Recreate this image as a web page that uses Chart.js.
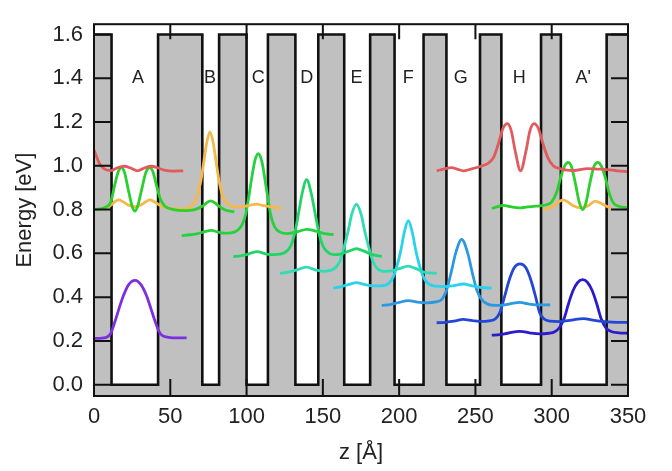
<!DOCTYPE html>
<html><head><meta charset="utf-8">
<script src="https://cdn.jsdelivr.net/npm/chart.js@4/dist/chart.umd.min.js"></script>
<style>html,body{margin:0;padding:0;background:#fff}#wrap{width:672px;height:471px}</style>
</head><body><div id="wrap"><canvas id="c" width="672" height="471"></canvas></div>
<script>
// ---- axes ----
const xTicks = [0, 50, 100, 150, 200, 250, 300, 350];
const yTicks = [0.0, 0.2, 0.4, 0.6, 0.8, 1.0, 1.2, 1.4, 1.6];
const xRange = [0, 350];
const yRange = [-0.0517, 1.647];

// ---- conduction band profile (z in Å) ----
const barrierLeft  = [0,    42, 82,  114, 147, 181, 216, 253, 293, 336];
const barrierRight = [11.5, 71, 100, 132, 164, 197, 231, 267, 306, 350];
const barrierTop = 1.6;
const wellBottom = 0.0;

// ---- well labels ----
const wellNames  = ['A', 'B', 'C', 'D', 'E', 'F', 'G', 'H', "A'"];
const wellLabelZ = [28.8, 76, 107.7, 139.4, 172, 206, 240.3, 278.7, 320.6];
const wellLabelE = 1.4;

// ---- wavefunctions [z, E] ----
const psiRedA = [[0,1.072],[2,1.035],[4,1.005],[7,0.985],[11,0.978],[15,0.99],[20,0.998],[24,0.99],[28.5,0.977],[33,0.99],[37.5,0.998],[42,0.99],[46,0.98],[52,0.976],[58.5,0.977]];
const psiGreenA = [[0,0.80],[4,0.803],[8,0.812],[11,0.835],[13.5,0.91],[16,0.975],[18,0.992],[20,0.97],[22.5,0.89],[25,0.815],[26.8,0.793],[28.6,0.815],[31.2,0.89],[34,0.97],[36.5,0.992],[38.5,0.975],[41,0.91],[43.5,0.848],[46.5,0.815],[52,0.8],[60,0.795],[66,0.8],[71,0.815],[74,0.832],[76.5,0.84],[79,0.832],[82,0.815],[86,0.798],[92,0.79]];
const psiOrangeAB = [[7,0.808],[11,0.82],[14,0.838],[16,0.844],[18.5,0.838],[22,0.822],[26.7,0.812],[31,0.822],[34.5,0.838],[36.5,0.844],[39,0.838],[43,0.82],[48,0.808],[55,0.803],[61,0.806],[65,0.825],[67.5,0.86],[70,0.93],[72,1.02],[74,1.11],[76,1.155],[78,1.11],[80,1.02],[82,0.93],[84.5,0.86],[87,0.83],[91,0.815],[96,0.812],[101,0.818],[106.5,0.825],[111,0.818],[116,0.812],[123,0.805]];
const psiGreenC = [[57.5,0.681],[63,0.685],[68,0.69],[72,0.698],[77,0.705],[81,0.698],[85,0.692],[90,0.694],[94,0.705],[97,0.73],[99.5,0.78],[101.5,0.86],[103.5,0.95],[105.5,1.025],[107.7,1.055],[110,1.02],[112,0.94],[114,0.85],[116,0.77],[118.5,0.72],[122,0.697],[127,0.69],[133,0.698],[139.4,0.71],[146,0.7],[151,0.69],[157,0.686]];
const psiGreenD = [[91.3,0.585],[96,0.588],[100,0.594],[106.6,0.608],[113,0.597],[118,0.594],[122,0.596],[126,0.608],[129,0.635],[131.5,0.69],[134,0.78],[136.3,0.87],[139.4,0.937],[142.5,0.87],[145,0.78],[147.5,0.69],[150,0.635],[153,0.606],[157,0.594],[162,0.598],[167,0.61],[172,0.621],[177,0.61],[182,0.595],[188.6,0.585]];
const psiTealE = [[122,0.509],[128,0.515],[134,0.527],[139.4,0.537],[145,0.525],[150,0.518],[155,0.522],[159,0.54],[161.5,0.57],[164,0.63],[166.5,0.7],[169,0.78],[172,0.825],[175,0.78],[177.5,0.7],[180,0.63],[182.5,0.57],[185,0.536],[190,0.518],[195,0.52],[200,0.53],[206,0.542],[211,0.53],[217,0.513],[224.6,0.509]];
const psiCyanF = [[156.8,0.441],[162,0.448],[167,0.458],[172,0.466],[177,0.458],[183,0.451],[189,0.452],[193,0.462],[196,0.49],[198.5,0.54],[201,0.61],[203.5,0.7],[206,0.75],[208.5,0.7],[211,0.61],[213.5,0.54],[216,0.49],[219,0.462],[224,0.45],[230,0.448],[236,0.453],[242,0.46],[248,0.452],[254,0.444],[260.7,0.441]];
const psiBlueG = [[188.6,0.362],[194,0.366],[200,0.376],[206,0.384],[212,0.377],[218,0.374],[224,0.378],[228,0.39],[231,0.43],[234,0.51],[237,0.6],[241,0.664],[245,0.6],[248,0.51],[251,0.43],[254,0.39],[258,0.368],[264,0.362],[270,0.366],[275,0.373],[279.2,0.376],[284,0.37],[290,0.365],[299,0.365]];
const psiBlueH = [[224.6,0.283],[230,0.285],[236,0.29],[242,0.298],[248,0.293],[254,0.289],[259,0.292],[263,0.3],[266,0.33],[269,0.4],[272,0.475],[275.5,0.535],[279.2,0.552],[283,0.535],[286.5,0.475],[289.5,0.4],[292,0.33],[295,0.3],[299,0.29],[305,0.288],[313,0.295],[320.7,0.302],[328,0.294],[336,0.287],[343,0.285],[350,0.285]];
const psiNavyA2 = [[260.7,0.226],[266,0.229],[271,0.235],[279.2,0.244],[286,0.236],[292,0.232],[298,0.235],[302,0.242],[305,0.26],[308,0.3],[311,0.37],[314,0.43],[317,0.467],[320.3,0.48],[323.5,0.467],[326.5,0.43],[329.5,0.37],[332.5,0.3],[335.5,0.26],[339,0.243],[344,0.237],[350,0.235]];
const psiPurpleA = [[0,0.211],[4,0.212],[8,0.216],[11,0.235],[13.8,0.29],[16.5,0.35],[19.2,0.405],[22.5,0.455],[26.9,0.477],[31,0.455],[34.5,0.405],[37.2,0.35],[40,0.29],[42.5,0.245],[44.5,0.226],[48,0.217],[52,0.214],[60.7,0.214]];
const psiRedH = [[224.6,0.977],[229,0.985],[234.4,0.992],[238,0.985],[242,0.977],[247,0.985],[253,0.997],[258,1.01],[262,1.04],[265,1.1],[268,1.17],[270.9,1.193],[273.5,1.16],[276,1.07],[279.6,0.977],[283.2,1.07],[285.7,1.16],[288.4,1.193],[291.3,1.17],[294.3,1.1],[297.3,1.04],[301,1.0],[305.4,0.987],[310,0.98],[314,0.978],[318,0.982],[323,0.987],[330,0.985],[336,0.983],[343,0.977],[350,0.973]];
const psiGreenA2 = [[260.7,0.805],[264,0.812],[268.3,0.819],[273,0.813],[279.2,0.808],[284,0.812],[288,0.815],[292,0.817],[296.7,0.822],[300,0.835],[303.3,0.88],[306,0.95],[308.5,1.0],[310.9,1.016],[313,0.995],[315.5,0.92],[318,0.835],[320.3,0.8],[322.6,0.835],[325,0.92],[327.6,0.995],[330.1,1.016],[332.5,1.0],[335,0.95],[337.5,0.88],[340.5,0.83],[344,0.815],[350,0.808]];
const psiOrangeA2 = [[294.5,0.80],[298,0.806],[301,0.815],[304.5,0.835],[307.6,0.844],[310.5,0.835],[314,0.818],[319.6,0.808],[324.5,0.82],[328.4,0.839],[332,0.83],[336,0.815],[339.3,0.805]];

const states = [
  {data: psiRedA,     color: '#e25a5c'},
  {data: psiGreenA,   color: '#2ccf2c'},
  {data: psiOrangeAB, color: '#f5b84a'},
  {data: psiGreenC,   color: '#26d13e'},
  {data: psiGreenD,   color: '#22d466'},
  {data: psiTealE,    color: '#2fdcb4'},
  {data: psiCyanF,    color: '#2ad2ec'},
  {data: psiBlueG,    color: '#2b98e0'},
  {data: psiBlueH,    color: '#2446d6'},
  {data: psiNavyA2,   color: '#2a1ccc'},
  {data: psiPurpleA,  color: '#7d30e0'},
  {data: psiRedH,     color: '#e25a5c'},
  {data: psiGreenA2,  color: '#2ccf2c'},
  {data: psiOrangeA2, color: '#f5b84a'}
];

// build band profile from barrier arrays
const profile = [];
for (let i = 0; i < barrierLeft.length; i++) {
  profile.push({x: barrierLeft[i], y: barrierTop});
  profile.push({x: barrierRight[i], y: barrierTop});
  if (i < barrierLeft.length - 1) {
    profile.push({x: barrierRight[i], y: wellBottom});
    profile.push({x: barrierLeft[i + 1], y: wellBottom});
  }
}

const datasets = [{
  data: profile, showLine: true, borderColor: '#111', borderWidth: 2.6,
  backgroundColor: '#c0c0c0', fill: 'start', pointRadius: 0, tension: 0, order: 100
}];
states.forEach(s => datasets.push({
  data: s.data.map(p => ({x: p[0], y: p[1]})), showLine: true,
  borderColor: s.color, borderWidth: 2.8, pointRadius: 0, fill: false,
  cubicInterpolationMode: 'monotone', order: 1
}));

const font = {family: '"Liberation Sans", Arial, sans-serif', size: 22};

const framePlugin = {
  id: 'frame',
  afterDatasetsDraw(chart) {
    const {ctx, chartArea: a, scales: {x, y}} = chart;
    ctx.save();
    ctx.strokeStyle = '#111';
    ctx.lineWidth = 2;
    ctx.beginPath();
    yTicks.forEach(v => {
      const p = y.getPixelForValue(v);
      ctx.moveTo(a.left, p); ctx.lineTo(a.left + 17, p);
      ctx.moveTo(a.right, p); ctx.lineTo(a.right - 17, p);
    });
    xTicks.forEach(v => {
      const p = x.getPixelForValue(v);
      ctx.moveTo(p, a.bottom); ctx.lineTo(p, a.bottom - 17);
      ctx.moveTo(p, a.top); ctx.lineTo(p, a.top + 15);
    });
    ctx.stroke();
    ctx.strokeRect(a.left, a.top, a.right - a.left, a.bottom - a.top);
    ctx.fillStyle = '#222';
    ctx.font = '18px "Liberation Sans", Arial, sans-serif';
    ctx.textAlign = 'center';
    ctx.textBaseline = 'middle';
    wellNames.forEach((n, i) => ctx.fillText(n, x.getPixelForValue(wellLabelZ[i]), y.getPixelForValue(wellLabelE)));
    ctx.restore();
  }
};

new Chart(document.getElementById('c'), {
  type: 'scatter',
  data: {datasets},
  options: {
    responsive: false, animation: false, devicePixelRatio: 1,
    layout: {padding: {top: 2, right: 44, left: 0, bottom: 0}},
    plugins: {legend: {display: false}, tooltip: {enabled: false}},
    scales: {
      x: {
        type: 'linear', min: xRange[0], max: xRange[1],
        afterBuildTicks: s => { s.ticks = xTicks.map(v => ({value: v})); },
        afterFit: s => { s.height = 75; },
        grid: {display: false, drawTicks: false}, border: {display: false},
        ticks: {font, color: '#222', padding: 8, maxRotation: 0, autoSkip: false},
        title: {display: true, text: 'z [Å]', font, color: '#222', padding: {top: 0, bottom: 5}}
      },
      y: {
        type: 'linear', min: yRange[0], max: yRange[1],
        afterBuildTicks: s => { s.ticks = yTicks.map(v => ({value: v})); },
        afterFit: s => { s.width = 94; },
        grid: {display: false, drawTicks: false}, border: {display: false},
        ticks: {font, color: '#222', padding: 11, callback: v => v.toFixed(1), autoSkip: false},
        title: {display: true, text: 'Energy [eV]', font, color: '#222', padding: {top: 12, bottom: 0}}
      }
    }
  },
  plugins: [framePlugin]
});
</script></body></html>
